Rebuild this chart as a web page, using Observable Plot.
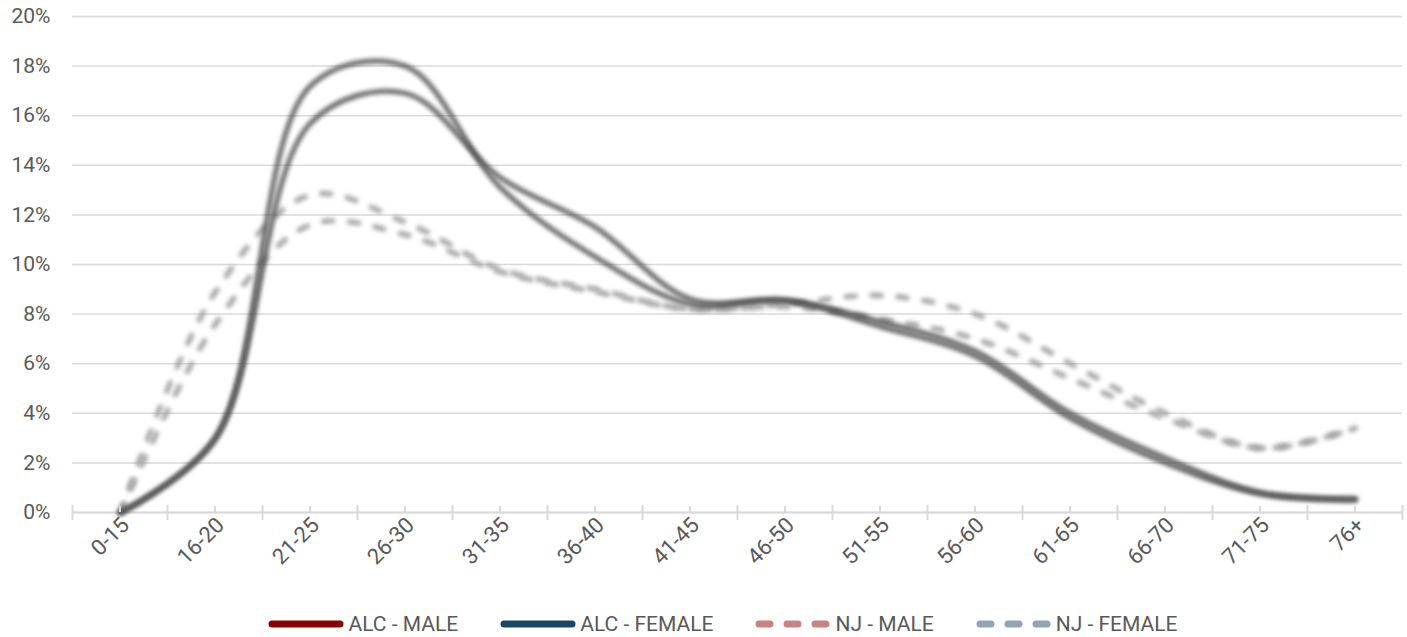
<!DOCTYPE html>
<html>
<head>
<meta charset="utf-8">
<script src="https://cdn.jsdelivr.net/npm/d3@7"></script>
<script src="https://cdn.jsdelivr.net/npm/@observablehq/plot@0.6"></script>
<style>
  html, body { margin: 0; padding: 0; background: #fff; }
  body { width: 1407px; height: 637px; overflow: hidden; font-family: Roboto, "Liberation Sans", sans-serif; }
  #legend { display: flex; justify-content: center; align-items: center; height: 27px; padding-left: 39px; color: #595959; font-size: 21px; }
  .item { display: flex; align-items: center; margin: 0 21px; }
  .item svg { margin-right: 4px; }
</style>
</head>
<body>
<div id="chart"></div>
<div id="legend"></div>
<script>
// Age groups (x categories)
const ageGroups = ["0-15","16-20","21-25","26-30","31-35","36-40","41-45","46-50","51-55","56-60","61-65","66-70","71-75","76+"];
// Series values (percent of population)
const alcMale   = [0, 3.0, 17.2, 18.0, 13.1, 10.3, 8.4, 8.55, 7.5, 6.3, 3.8, 2.0, 0.75, 0.5];
const alcFemale = [0, 3.0, 15.7, 16.9, 13.5, 11.5, 8.6, 8.55, 7.7, 6.5, 4.0, 2.2, 0.8, 0.55];
const njMale    = [0, 8.9, 12.8, 11.7, 9.8, 9.0, 8.2, 8.4, 8.75, 8.0, 6.0, 4.0, 2.6, 3.4];
const njFemale  = [0, 7.6, 11.6, 11.2, 9.7, 8.9, 8.2, 8.3, 7.8, 7.0, 5.4, 3.8, 2.6, 3.4];
// Y tick values
const yTicks = [0, 0.02, 0.04, 0.06, 0.08, 0.10, 0.12, 0.14, 0.16, 0.18, 0.20];

const seriesNames = ["ALC - MALE", "ALC - FEMALE", "NJ - MALE", "NJ - FEMALE"];
const seriesValues = [alcMale, alcFemale, njMale, njFemale];
const legendColors = ["#8b0000", "#1b4661", "#c98282", "#8ea6b3"];
const dashed = [false, false, true, true];

const rows = seriesNames.map((name, s) => ageGroups.map((g, i) => ({series: name, age: g, value: seriesValues[s][i] / 100})));

const lineMark = (s) => Plot.line(rows[s], {
  x: "age", y: "value", curve: "catmull-rom",
  stroke: dashed[s] ? "#a4a4a4" : "#4d4d4d",
  strokeOpacity: dashed[s] ? 0.95 : 0.85,
  strokeWidth: dashed[s] ? 5.5 : 5,
  strokeLinecap: "round",
  strokeDasharray: dashed[s] ? "9,17" : null
});

const chart = Plot.plot({
  width: 1407,
  height: 610,
  marginLeft: 72,
  marginRight: 5,
  marginTop: 16,
  marginBottom: 98,
  style: {fontFamily: "Roboto, 'Liberation Sans', sans-serif", fontSize: "21px", color: "#595959", background: "white"},
  x: {type: "point", domain: ageGroups, padding: 0.5, label: null},
  y: {domain: [0, 0.2], label: null},
  marks: [
    Plot.gridY(yTicks, {stroke: "#d9d9d9", strokeOpacity: 1, strokeWidth: 1.5}),
    Plot.axisY(yTicks, {tickFormat: d3.format(".0%"), tickSize: 0, tickPadding: 22, fontSize: 21, fill: "#595959", label: null}),
    Plot.axisX({tickSize: 0, tickRotate: -45, tickPadding: 9, dx: 5, fontSize: 22, fill: "#595959", label: null}),
    Plot.ruleY([0], {stroke: "#d9d9d9", strokeWidth: 2}),
    lineMark(3), lineMark(2), lineMark(1), lineMark(0)
  ]
});

// blur the data lines like the reference picture
d3.select(chart).selectAll('g[aria-label="line"]').style("filter", "blur(2px)");

// Excel-style category ticks: major at band boundaries (crossing), minor at centres (inside)
const xs = chart.scale("x");
const ys = chart.scale("y");
const centers = ageGroups.map(g => xs.apply(g));
const step = centers[1] - centers[0];
const y0 = ys.apply(0);
const tg = d3.select(chart).append("g").attr("stroke", "#d9d9d9").attr("stroke-width", 2);
const bounds = centers.map(c => c - step / 2).concat([centers[centers.length - 1] + step / 2]);
bounds.forEach(b => tg.append("line").attr("x1", b).attr("x2", b).attr("y1", y0 - 7).attr("y2", y0 + 8));
centers.forEach(c => tg.append("line").attr("x1", c).attr("x2", c).attr("y1", y0 - 6).attr("y2", y0));

document.getElementById("chart").appendChild(chart);

// Legend
const legend = d3.select("#legend");
seriesNames.forEach((name, s) => {
  const item = legend.append("div").attr("class", "item");
  const sw = item.append("svg").attr("width", 76).attr("height", 10);
  sw.append("line").attr("x1", 4).attr("x2", 72).attr("y1", 5).attr("y2", 5)
    .attr("stroke", legendColors[s]).attr("stroke-width", 7).attr("stroke-linecap", "round")
    .attr("stroke-dasharray", dashed[s] ? "11,17" : null);
  item.append("span").text(name);
});
</script>
</body>
</html>
